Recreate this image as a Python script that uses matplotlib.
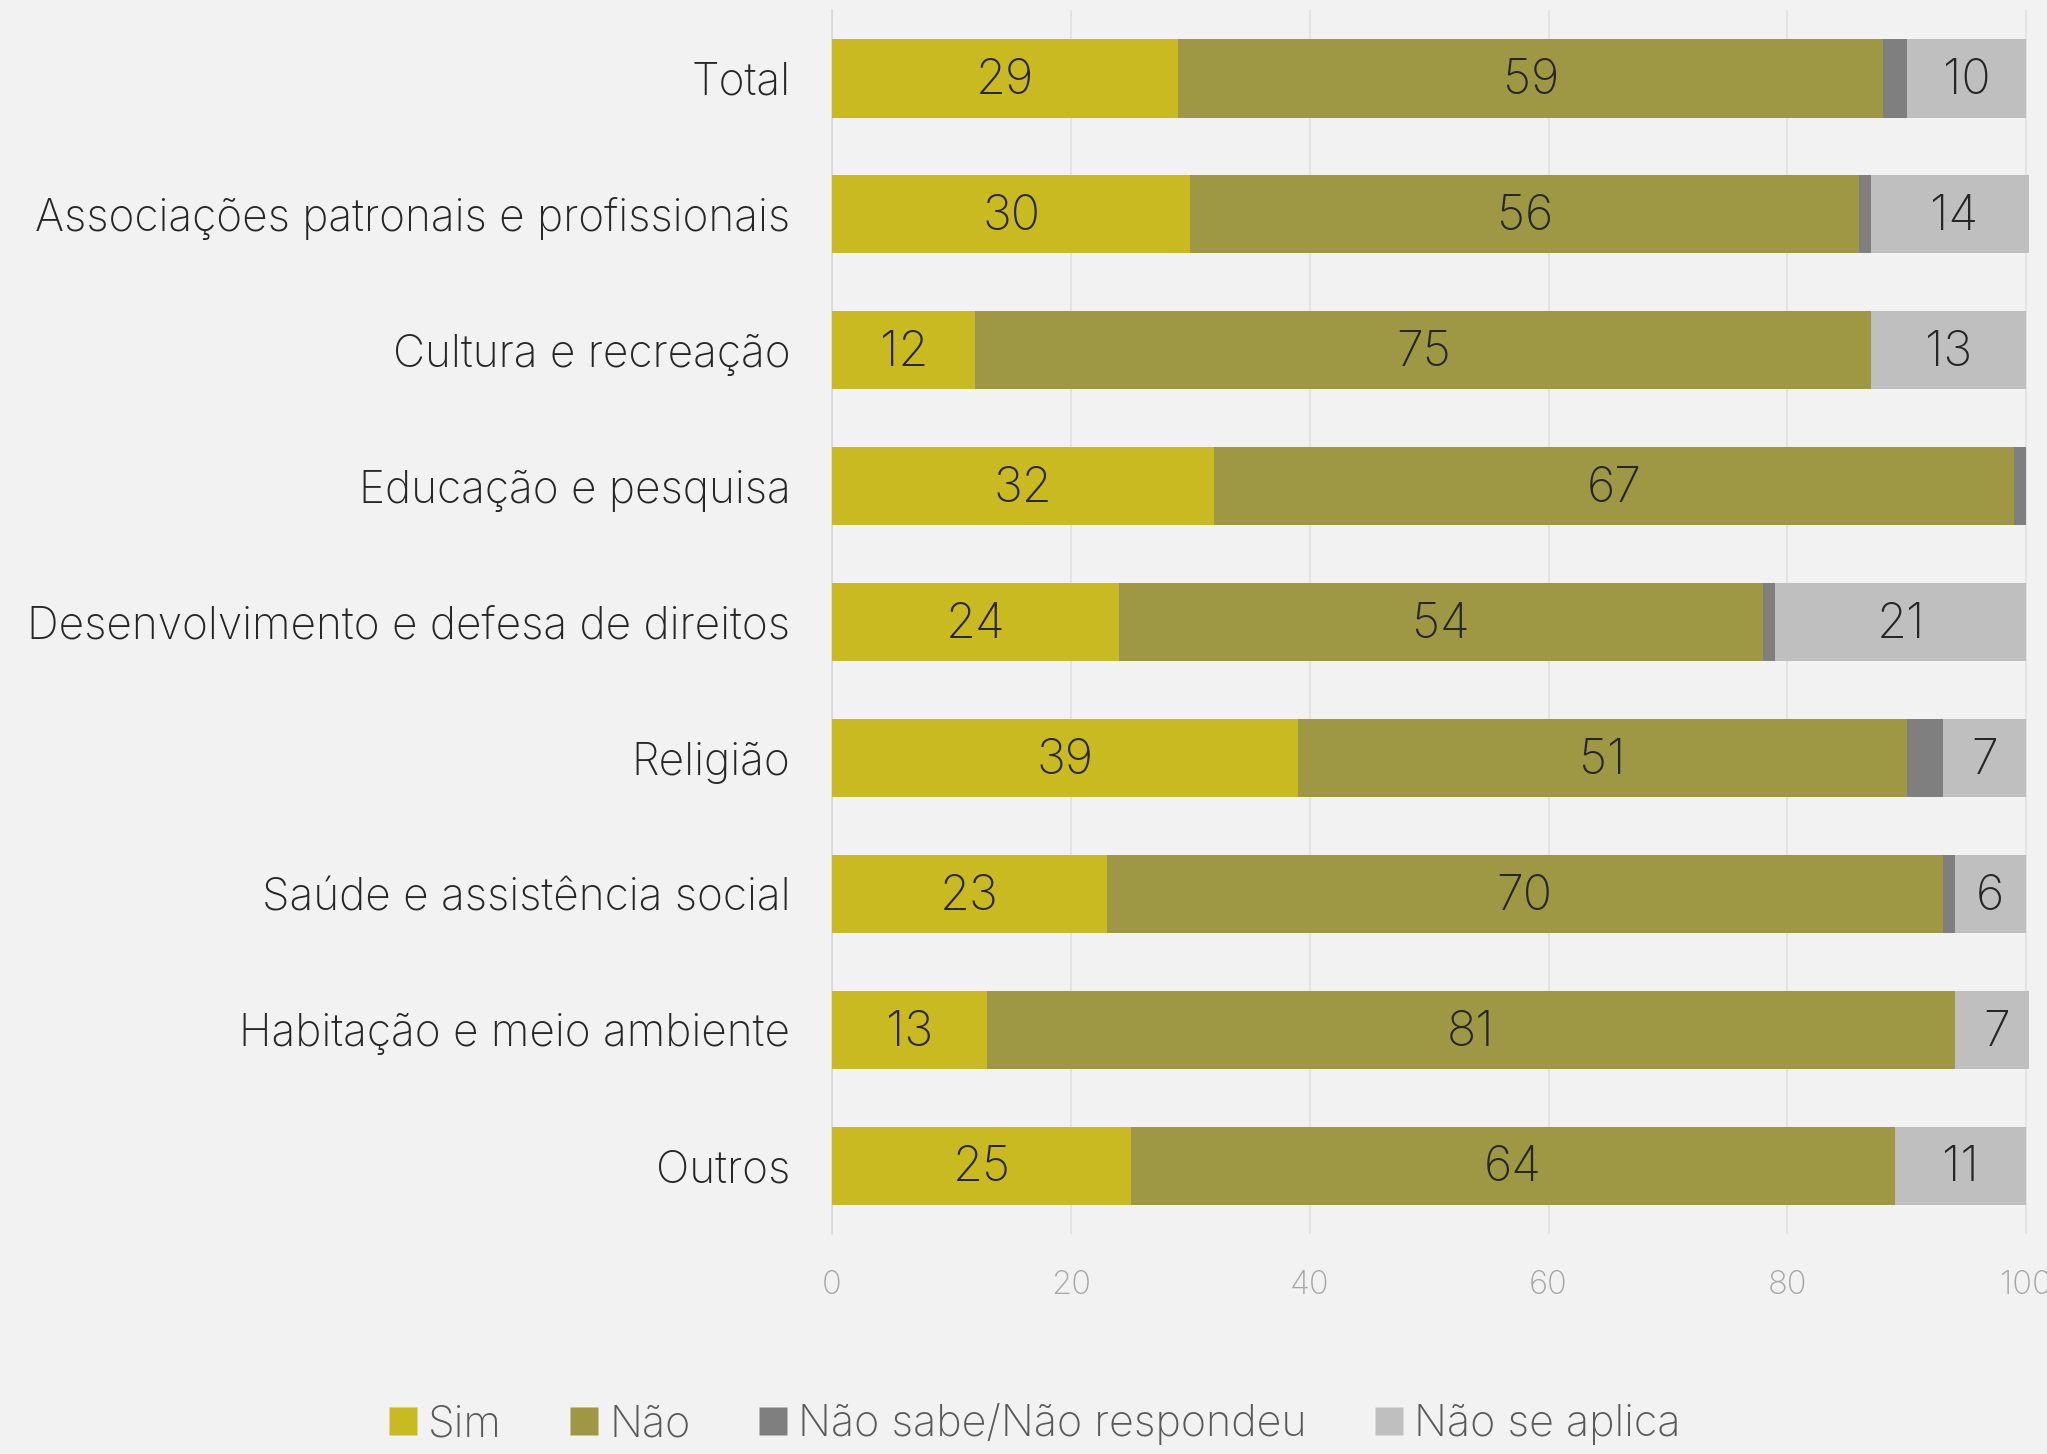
import matplotlib
matplotlib.use("Agg")
import matplotlib.pyplot as plt
from matplotlib.lines import Line2D
import numpy as np

plt.rcParams['font.family'] = ['Inter', 'DejaVu Sans']

categories = ["Total", "Associações patronais e profissionais", "Cultura e recreação",
              "Educação e pesquisa", "Desenvolvimento e defesa de direitos", "Religião",
              "Saúde e assistência social", "Habitação e meio ambiente", "Outros"]
sim = [29, 30, 12, 32, 24, 39, 23, 13, 25]
nao = [59, 56, 75, 67, 54, 51, 70, 81, 64]
nsnr = [2, 1, 0, 1, 1, 3, 1, 0, 0]
nsa = [10, 14, 13, 0, 21, 7, 6, 7, 11]
series_names = ["Sim", "Não", "Não sabe/Não respondeu", "Não se aplica"]
xticks = [0, 20, 40, 60, 80, 100]

colors = ["#C9BA22", "#9E9845", "#7F7F7F", "#BFBFBF"]
bg = "#F2F2F2"

fig = plt.figure(figsize=(20.47, 14.54), dpi=100, facecolor=bg)
ax = fig.add_axes([0.4065, 0.1515, 0.9910 - 0.4065, 0.9928 - 0.1515])
ax.set_facecolor(bg)

y = np.arange(len(categories))
left = np.zeros(len(categories))
series = [sim, nao, nsnr, nsa]
for i, (vals, col) in enumerate(zip(series, colors)):
    vals = np.array(vals, dtype=float)
    ax.barh(y, vals, left=left, height=0.575, color=col, edgecolor='none', zorder=3)
    if i != 2:
        for yy, l, v in zip(y, left, vals):
            if v > 0:
                ax.text(l + v / 2, yy + 0.02, f"{int(v)}", ha='center', va='center',
                        fontsize=35, color='#262626', fontweight='light', zorder=4)
    left += vals

ax.set_xlim(0, 100.2)
ax.set_ylim(len(categories) - 0.5, -0.5)
ax.set_xticks(xticks)
ax.set_xticklabels([str(t) for t in xticks])
ax.set_yticks(y)
ax.set_yticklabels(categories)
ax.tick_params(axis='y', length=0, pad=30, labelsize=31.8, labelcolor='#262626')
ax.tick_params(axis='x', length=0, pad=26, labelsize=23.5, labelcolor='#A6A6A6')
for lab in ax.get_yticklabels():
    lab.set_fontweight('light')
for lab in ax.get_xticklabels():
    lab.set_fontweight('light')
ax.grid(axis='x', color='#E0E0E0', linewidth=1.2, zorder=0)
for s in ['top', 'right', 'bottom']:
    ax.spines[s].set_visible(False)
ax.spines['left'].set_color('#D9D9D9')
ax.spines['left'].set_linewidth(1.2)

handles = [Line2D([0], [0], marker='s', linestyle='none', markersize=20,
                  markerfacecolor=c, markeredgecolor='none') for c in colors]
leg = fig.legend(handles, series_names, loc='center', bbox_to_anchor=(0.506, 0.0205),
                 ncol=4, frameon=False, fontsize=31, handlelength=0.55,
                 handletextpad=0.3, columnspacing=1.65)
for t in leg.get_texts():
    t.set_color('#595959')
    t.set_fontweight('light')

fig.savefig("out.png", dpi=100, facecolor=bg)
